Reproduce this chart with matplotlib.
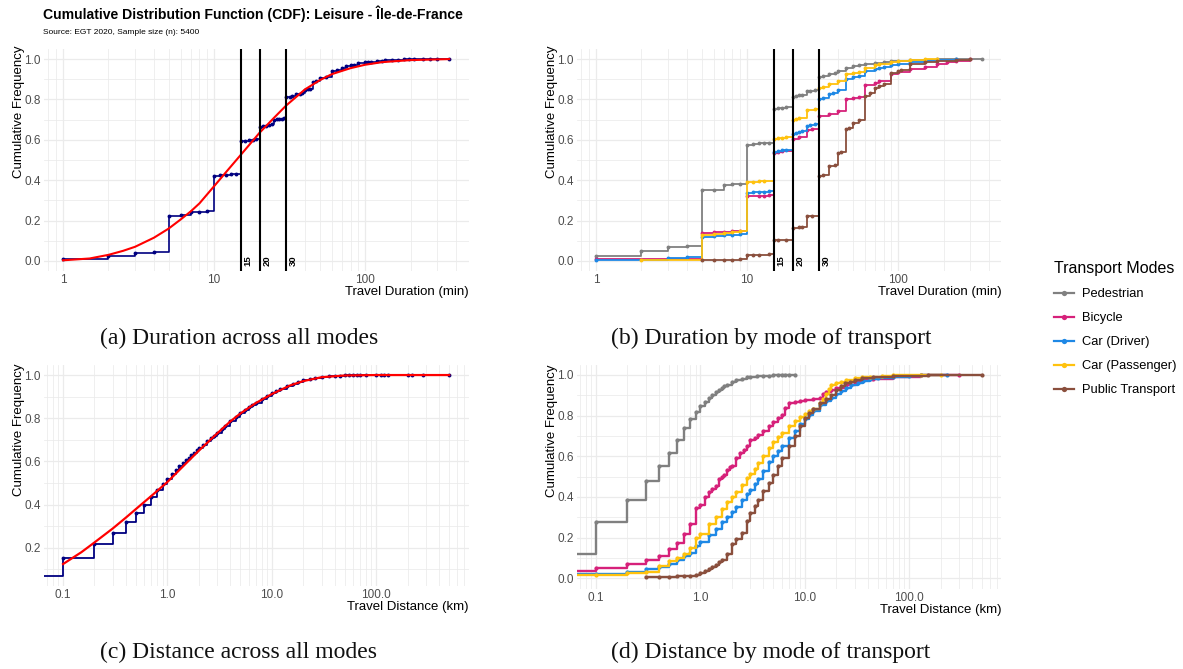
import numpy as np
import matplotlib
matplotlib.use("Agg")
import matplotlib.pyplot as plt
from matplotlib.lines import Line2D
from matplotlib.ticker import FixedLocator, FixedFormatter, NullFormatter

plt.rcParams["font.family"] = ["Liberation Sans", "DejaVu Sans"]

W, H, DPI = 1183, 669, 100

# ---------------- data ----------------
# (a) travel duration, all modes (minutes -> cumulative share)
dur_all = [1, 2, 3, 4, 5, 6, 7, 8, 9, 10, 11, 12, 13, 14, 15, 16, 17, 18, 19, 20,
           21, 22, 23, 24, 25, 26, 27, 28, 29, 30, 32, 33, 35, 37, 38, 40, 42, 43,
           45, 47, 50, 55, 60, 65, 70, 75, 80, 85, 90, 100, 105, 110, 120, 130, 135,
           150, 165, 180, 195, 210, 240, 270, 300, 360]
cdf_dur_all = [0.010, 0.025, 0.038, 0.043, 0.225, 0.228, 0.240, 0.244, 0.247, 0.420,
               0.424, 0.427, 0.429, 0.430, 0.592, 0.595, 0.597, 0.600, 0.602, 0.662,
               0.666, 0.670, 0.673, 0.676, 0.700, 0.702, 0.704, 0.705, 0.706, 0.810,
               0.813, 0.815, 0.826, 0.828, 0.830, 0.848, 0.850, 0.852, 0.888, 0.890,
               0.905, 0.912, 0.940, 0.945, 0.955, 0.965, 0.970, 0.972, 0.979, 0.984,
               0.986, 0.988, 0.991, 0.993, 0.994, 0.996, 0.997, 0.998, 0.998, 0.999,
               0.999, 0.999, 1.000, 1.000]
# fitted distribution curve for durations
fit_dur = [1, 1.5, 2, 2.5, 3, 4, 5, 6, 7, 8, 10, 12, 15, 20, 25, 30, 40, 50, 60, 80,
           100, 130, 200, 360]
fit_dur_cdf = [0.003, 0.012, 0.030, 0.050, 0.070, 0.115, 0.160, 0.205, 0.245, 0.285,
               0.370, 0.440, 0.525, 0.635, 0.710, 0.770, 0.850, 0.895, 0.925, 0.955,
               0.972, 0.985, 0.995, 1.000]
duration_marks = [15, 20, 30]

# (b) travel duration by mode
modes = ["Pedestrian", "Bicycle", "Car (Driver)", "Car (Passenger)", "Public Transport"]
mode_colors = ["#808080", "#D6217A", "#1E88E5", "#FFC20E", "#8A4F3D"]

dur_ped = [1, 2, 3, 4, 5, 6, 7, 8, 9, 10, 11, 12, 13, 14, 15, 16, 17, 18, 20, 21, 22,
           23, 25, 26, 28, 30, 32, 35, 38, 40, 45, 50, 55, 60, 70, 80, 90, 100, 120,
           150, 180, 240, 360]
cdf_dur_ped = [0.022, 0.050, 0.068, 0.075, 0.350, 0.353, 0.375, 0.380, 0.383, 0.575,
               0.579, 0.582, 0.584, 0.586, 0.752, 0.756, 0.759, 0.762, 0.812, 0.816,
               0.820, 0.823, 0.840, 0.843, 0.846, 0.912, 0.916, 0.925, 0.930, 0.943,
               0.955, 0.965, 0.970, 0.978, 0.983, 0.986, 0.990, 0.992, 0.995, 0.997,
               0.998, 0.999, 1.000]
dur_bike = [1, 5, 6, 7, 8, 9, 10, 12, 13, 14, 15, 16, 17, 20, 22, 25, 27, 30, 35, 40,
            45, 50, 55, 60, 70, 75, 90, 100, 120, 150, 180, 210, 240, 300]
cdf_dur_bike = [0.008, 0.140, 0.141, 0.145, 0.147, 0.148, 0.320, 0.322, 0.324, 0.326,
                0.535, 0.540, 0.545, 0.605, 0.612, 0.648, 0.652, 0.720, 0.730, 0.742,
                0.800, 0.805, 0.812, 0.870, 0.882, 0.890, 0.925, 0.935, 0.950, 0.962,
                0.978, 0.985, 0.992, 1.000]
dur_drv = [1, 3, 4, 5, 6, 7, 8, 9, 10, 11, 12, 13, 14, 15, 16, 17, 18, 20, 21, 22, 23,
           25, 26, 28, 30, 32, 35, 37, 40, 45, 50, 55, 60, 70, 75, 80, 90, 100, 120,
           150, 180, 240]
cdf_dur_drv = [0.004, 0.015, 0.020, 0.120, 0.122, 0.126, 0.130, 0.135, 0.337, 0.340,
               0.342, 0.343, 0.345, 0.540, 0.545, 0.548, 0.550, 0.630, 0.635, 0.640,
               0.645, 0.670, 0.675, 0.680, 0.800, 0.806, 0.825, 0.830, 0.848, 0.900,
               0.910, 0.915, 0.940, 0.952, 0.958, 0.962, 0.970, 0.976, 0.985, 0.990,
               0.995, 1.000]
dur_pas = [2, 5, 6, 7, 8, 9, 10, 11, 12, 13, 15, 16, 17, 18, 20, 21, 22, 25, 28, 30,
           32, 35, 40, 45, 50, 55, 60, 70, 75, 90, 100, 120, 150, 180]
cdf_dur_pas = [0.005, 0.130, 0.132, 0.137, 0.142, 0.148, 0.390, 0.392, 0.394, 0.395,
               0.605, 0.607, 0.610, 0.612, 0.700, 0.703, 0.708, 0.748, 0.752, 0.855,
               0.860, 0.875, 0.890, 0.925, 0.930, 0.935, 0.955, 0.970, 0.975, 0.985,
               0.990, 0.995, 0.998, 1.000]
dur_pt = [5, 6, 7, 8, 9, 10, 11, 12, 14, 15, 16, 18, 20, 22, 23, 25, 27, 30, 32, 35,
          38, 40, 42, 45, 47, 50, 55, 60, 65, 70, 75, 80, 90, 100, 105, 120, 150, 180,
          240, 300]
cdf_dur_pt = [0.005, 0.005, 0.006, 0.006, 0.007, 0.027, 0.030, 0.031, 0.032, 0.103,
              0.104, 0.106, 0.163, 0.166, 0.168, 0.222, 0.225, 0.420, 0.425, 0.470,
              0.474, 0.535, 0.540, 0.655, 0.660, 0.685, 0.700, 0.815, 0.830, 0.855,
              0.868, 0.875, 0.930, 0.940, 0.945, 0.975, 0.985, 0.990, 0.997, 1.000]

# (c) travel distance, all modes (km; 0 km trips sit at the left edge of the log axis)
dist_all = [0, 0.1, 0.2, 0.3, 0.4, 0.5, 0.6, 0.7, 0.8, 0.9, 1.0, 1.1, 1.2, 1.3, 1.4,
            1.5, 1.6, 1.7, 1.8, 1.9, 2.0, 2.2, 2.4, 2.6, 2.8, 3.0, 3.3, 3.6, 4.0, 4.5,
            5.0, 5.5, 6.0, 6.5, 7.0, 8.0, 9.0, 10, 11, 12, 14, 16, 18, 20, 23, 26, 30,
            35, 40, 45, 50, 55, 60, 65, 70, 80, 100, 110, 120, 130, 200, 220, 280, 500]
cdf_dist_all = [0.070, 0.155, 0.218, 0.270, 0.318, 0.360, 0.400, 0.437, 0.468, 0.497,
                0.520, 0.542, 0.562, 0.578, 0.592, 0.605, 0.618, 0.630, 0.641, 0.651,
                0.660, 0.678, 0.693, 0.707, 0.720, 0.733, 0.750, 0.765, 0.785, 0.805,
                0.822, 0.837, 0.850, 0.862, 0.872, 0.890, 0.903, 0.915, 0.925, 0.934,
                0.949, 0.960, 0.968, 0.975, 0.982, 0.987, 0.991, 0.994, 0.996, 0.997,
                0.998, 0.998, 0.999, 0.999, 0.999, 1.000, 1.000, 1.000, 1.000, 1.000,
                1.000, 1.000, 1.000, 1.000]
# fitted distribution curve for distances
fit_dist = [0.1, 0.15, 0.2, 0.3, 0.4, 0.5, 0.7, 1.0, 1.5, 2, 3, 4, 5, 7, 10, 15, 20,
            30, 50, 100, 500]
fit_dist_cdf = [0.125, 0.180, 0.225, 0.290, 0.340, 0.380, 0.440, 0.505, 0.590, 0.650,
                0.730, 0.785, 0.822, 0.870, 0.912, 0.952, 0.972, 0.990, 0.998, 1.000,
                1.000]

# (d) travel distance by mode
dist_ped = [0, 0.1, 0.2, 0.3, 0.4, 0.5, 0.6, 0.7, 0.8, 0.9, 1.0, 1.1, 1.2, 1.3, 1.4,
            1.5, 1.6, 1.7, 1.8, 2.0, 2.2, 2.5, 2.8, 3.0, 3.5, 4.0, 4.5, 5.0, 5.5, 6.0,
            6.5, 7.0, 8.0]
cdf_dist_ped = [0.120, 0.275, 0.385, 0.477, 0.552, 0.618, 0.682, 0.740, 0.782, 0.820,
                0.845, 0.868, 0.888, 0.903, 0.916, 0.927, 0.936, 0.945, 0.953, 0.965,
                0.973, 0.982, 0.988, 0.990, 0.994, 0.995, 0.997, 0.998, 0.999, 0.999,
                1.000, 1.000, 1.000]
dist_bike = [0, 0.1, 0.2, 0.3, 0.4, 0.5, 0.6, 0.7, 0.8, 0.9, 1.0, 1.1, 1.2, 1.3, 1.4,
             1.5, 1.6, 1.7, 1.8, 1.9, 2.0, 2.2, 2.4, 2.6, 2.8, 3.0, 3.3, 3.6, 4.0, 4.5,
             5.0, 5.5, 6.0, 6.5, 7.0, 8.0, 9.0, 10, 12, 14, 15, 16, 18, 20, 25, 30, 35,
             45, 70, 130, 300]
cdf_dist_bike = [0.035, 0.050, 0.072, 0.090, 0.110, 0.145, 0.175, 0.220, 0.265, 0.345,
                 0.360, 0.400, 0.425, 0.440, 0.455, 0.490, 0.500, 0.510, 0.535, 0.545,
                 0.550, 0.590, 0.615, 0.630, 0.650, 0.680, 0.690, 0.705, 0.725, 0.750,
                 0.770, 0.790, 0.805, 0.840, 0.860, 0.868, 0.872, 0.877, 0.883, 0.886,
                 0.905, 0.915, 0.925, 0.935, 0.950, 0.965, 0.975, 0.980, 0.988, 1.000,
                 1.000]
dist_drv = [0, 0.1, 0.2, 0.3, 0.4, 0.5, 0.6, 0.7, 0.8, 0.9, 1.0, 1.2, 1.4, 1.6, 1.8,
            2.0, 2.2, 2.5, 2.8, 3.0, 3.3, 3.6, 4.0, 4.5, 5.0, 5.5, 6.0, 7.0, 8.0, 9.0,
            10, 11, 12, 14, 16, 18, 20, 22, 25, 28, 32, 36, 42, 50, 70, 100, 130, 230]
cdf_dist_drv = [0.020, 0.022, 0.030, 0.045, 0.055, 0.070, 0.090, 0.110, 0.125, 0.160,
                0.180, 0.215, 0.245, 0.275, 0.300, 0.325, 0.350, 0.385, 0.415, 0.435,
                0.465, 0.490, 0.530, 0.570, 0.600, 0.625, 0.650, 0.690, 0.725, 0.760,
                0.785, 0.805, 0.822, 0.850, 0.870, 0.888, 0.905, 0.920, 0.935, 0.950,
                0.962, 0.972, 0.980, 0.986, 0.992, 0.995, 0.998, 1.000]
dist_pas = [0, 0.1, 0.2, 0.3, 0.4, 0.5, 0.6, 0.7, 0.8, 0.9, 1.0, 1.2, 1.4, 1.6, 1.8,
            2.0, 2.2, 2.5, 2.8, 3.0, 3.3, 3.6, 4.0, 4.5, 5.0, 5.5, 6.0, 7.0, 8.0, 9.0,
            10, 11, 12, 14, 15, 16, 17, 18, 20, 22, 25, 30, 35, 42, 55, 70, 130, 200]
cdf_dist_pas = [0.015, 0.017, 0.025, 0.030, 0.060, 0.085, 0.100, 0.120, 0.150, 0.200,
                0.220, 0.265, 0.300, 0.340, 0.375, 0.400, 0.425, 0.460, 0.495, 0.515,
                0.540, 0.565, 0.600, 0.640, 0.670, 0.695, 0.715, 0.750, 0.775, 0.795,
                0.810, 0.825, 0.835, 0.860, 0.880, 0.905, 0.930, 0.950, 0.960, 0.967,
                0.975, 0.983, 0.988, 0.992, 0.996, 0.998, 1.000, 1.000]
dist_pt = [0.3, 0.4, 0.5, 0.6, 0.7, 0.8, 0.9, 1.0, 1.1, 1.2, 1.3, 1.4, 1.5, 1.6, 1.8,
           2.0, 2.2, 2.5, 2.8, 3.0, 3.3, 3.6, 4.0, 4.5, 5.0, 5.5, 6.0, 7.0, 8.0, 9.0,
           10, 11, 12, 14, 16, 18, 20, 22, 24, 27, 30, 35, 45, 70, 150, 500]
cdf_dist_pt = [0.005, 0.006, 0.008, 0.010, 0.011, 0.013, 0.018, 0.025, 0.035, 0.045,
               0.055, 0.065, 0.078, 0.090, 0.120, 0.170, 0.195, 0.225, 0.280, 0.320,
               0.355, 0.385, 0.430, 0.470, 0.510, 0.550, 0.590, 0.650, 0.700, 0.750,
               0.790, 0.815, 0.835, 0.860, 0.880, 0.900, 0.925, 0.945, 0.960, 0.967,
               0.975, 0.984, 0.990, 0.995, 0.998, 1.000]

duration_by_mode = [(dur_ped, cdf_dur_ped), (dur_bike, cdf_dur_bike),
                    (dur_drv, cdf_dur_drv), (dur_pas, cdf_dur_pas),
                    (dur_pt, cdf_dur_pt)]
distance_by_mode = [(dist_ped, cdf_dist_ped), (dist_bike, cdf_dist_bike),
                    (dist_drv, cdf_dist_drv), (dist_pas, cdf_dist_pas),
                    (dist_pt, cdf_dist_pt)]

NAVY = "#000080"
RED = "#FF0000"
GRID = "#EBEBEB"
TICK_GREY = "#4D4D4D"

# ---------------- helpers ----------------
fig = plt.figure(figsize=(W / DPI, H / DPI), dpi=DPI)
fig.patch.set_facecolor("white")


def panel(left, right, top, bottom):
    return fig.add_axes([left / W, 1 - bottom / H, (right - left) / W, (bottom - top) / H])


def log_limits(values, frac=0.05):
    v = np.asarray([x for x in values if x > 0], float)
    lo, hi = np.log10(v.min()), np.log10(v.max())
    pad = frac * (hi - lo)
    return 10 ** (lo - pad), 10 ** (hi + pad)


def lin_limits(values, frac=0.05):
    lo, hi = min(values), max(values)
    pad = frac * (hi - lo)
    return lo - pad, hi + pad


def style(ax, xlim, ylim, xmajor, xlabels, ymajor, yminor, xlabel, ylab_y):
    ax.set_xscale("log")
    ax.set_xlim(xlim)
    ax.set_ylim(ylim)
    for s in ax.spines.values():
        s.set_visible(False)
    ax.xaxis.set_major_locator(FixedLocator(xmajor))
    ax.xaxis.set_major_formatter(FixedFormatter(xlabels))
    minors = [m * 10.0 ** e for e in range(-3, 4) for m in range(2, 10)]
    minors = [m for m in minors if xlim[0] <= m <= xlim[1]]
    ax.xaxis.set_minor_locator(FixedLocator(minors))
    ax.xaxis.set_minor_formatter(NullFormatter())
    ax.yaxis.set_major_locator(FixedLocator(ymajor))
    ax.yaxis.set_major_formatter(FixedFormatter([f"{v:.1f}" for v in ymajor]))
    ax.yaxis.set_minor_locator(FixedLocator(yminor))
    ax.grid(which="major", color=GRID, lw=0.9)
    ax.grid(which="minor", color=GRID, lw=0.55)
    ax.set_axisbelow(True)
    ax.tick_params(which="both", length=0)
    ax.tick_params(which="major", labelsize=8.5, labelcolor=TICK_GREY, pad=2.2)
    ax.set_ylabel("Cumulative Frequency", fontsize=9.5)
    ax.yaxis.set_label_coords(-0.045, ylab_y)
    ax.set_xlabel(xlabel, fontsize=9.5, loc="right", labelpad=0.3)


def ecdf(ax, x, y, color, lw=1.2, ms=2.8, z=3):
    x = np.asarray(x, float)
    y = np.asarray(y, float)
    left = ax.get_xlim()[0]
    xs = np.where(x > 0, x, left)
    ax.plot(xs, y, drawstyle="steps-post", color=color, lw=lw, zorder=z)
    keep = x > 0
    ax.plot(x[keep], y[keep], "o", color=color, ms=ms, mec="none", zorder=z)


def duration_marks_on(ax):
    for m in duration_marks:
        ax.axvline(m, color="black", lw=1.5, zorder=6)
        ax.annotate(str(m), xy=(m, 0.0), xytext=(2.2, 0), textcoords="offset points",
                    rotation=90, fontsize=6.8, fontweight="bold", ha="left",
                    va="center", zorder=7)


dur_xlim = log_limits(dur_all + fit_dur)
dist_xlim = log_limits(dist_all + fit_dist)
unit_ylim = lin_limits([0.0, 1.0])
dist_ylim = lin_limits(cdf_dist_all + fit_dist_cdf)

y_major = [0.0, 0.2, 0.4, 0.6, 0.8, 1.0]
y_minor = [0.1, 0.3, 0.5, 0.7, 0.9]

# ---------------- (a) ----------------
ax_a = panel(43.7, 468.5, 49, 271)
style(ax_a, dur_xlim, unit_ylim, [1, 10, 100], ["1", "10", "100"], y_major, y_minor,
      "Travel Duration (min)", 0.716)
ecdf(ax_a, dur_all, cdf_dur_all, NAVY)
ax_a.plot(fit_dur, fit_dur_cdf, color=RED, lw=1.5, zorder=4)
duration_marks_on(ax_a)

# ---------------- (b) ----------------
ax_b = panel(576.7, 1001.5, 49, 271)
style(ax_b, dur_xlim, unit_ylim, [1, 10, 100], ["1", "10", "100"], y_major, y_minor,
      "Travel Duration (min)", 0.716)
for (xv, yv), col in zip(duration_by_mode, mode_colors):
    ecdf(ax_b, xv, yv, col, lw=1.3)
duration_marks_on(ax_b)

# ---------------- (c) ----------------
ax_c = panel(43.7, 468.5, 365, 586)
style(ax_c, dist_xlim, dist_ylim, [0.1, 1, 10, 100], ["0.1", "1.0", "10.0", "100.0"],
      [0.2, 0.4, 0.6, 0.8, 1.0], y_minor, "Travel Distance (km)", 0.706)
ecdf(ax_c, dist_all, cdf_dist_all, NAVY, lw=1.3)
ax_c.plot(fit_dist, fit_dist_cdf, color=RED, lw=1.6, zorder=4)

# ---------------- (d) ----------------
ax_d = panel(576.7, 1001.5, 364.8, 588.5)
style(ax_d, dist_xlim, unit_ylim, [0.1, 1, 10, 100], ["0.1", "1.0", "10.0", "100.0"],
      y_major, y_minor, "Travel Distance (km)", 0.704)
for (xv, yv), col in zip(distance_by_mode, mode_colors):
    ecdf(ax_d, xv, yv, col, lw=1.7, ms=3.0)

# ---------------- titles, legend, captions ----------------
fig.text(43 / W, 1 - 14 / H,
         "Cumulative Distribution Function (CDF): Leisure - Île-de-France",
         fontsize=10.1, fontweight="bold", ha="left", va="center")
fig.text(43 / W, 1 - 33 / H, "Source: EGT 2020, Sample size (n): 5400",
         fontsize=6, ha="left", va="center")

handles = [Line2D([], [], color=c, lw=1.6, marker="o", ms=3.8, mec="none")
           for c in mode_colors]
fig.legend(handles, modes, loc="upper left", bbox_to_anchor=(1054 / W, 1 - 261 / H),
           frameon=False, title="Transport Modes", title_fontsize=11.5,
           prop={"size": 9.3}, handlelength=1.55, handletextpad=0.62,
           labelspacing=0.93, alignment="left", borderpad=0, borderaxespad=0)

captions = [("(a) Duration across all modes", 239, 338),
            ("(b) Duration by mode of transport", 771, 338),
            ("(c) Distance across all modes", 239, 652),
            ("(d) Distance by mode of transport", 771, 652)]
for text, cx, cy in captions:
    fig.text(cx / W, 1 - cy / H, text, fontsize=17, family="Liberation Serif",
             ha="center", va="center", color="#111111")

fig.savefig("out.png", dpi=DPI, facecolor="white")
